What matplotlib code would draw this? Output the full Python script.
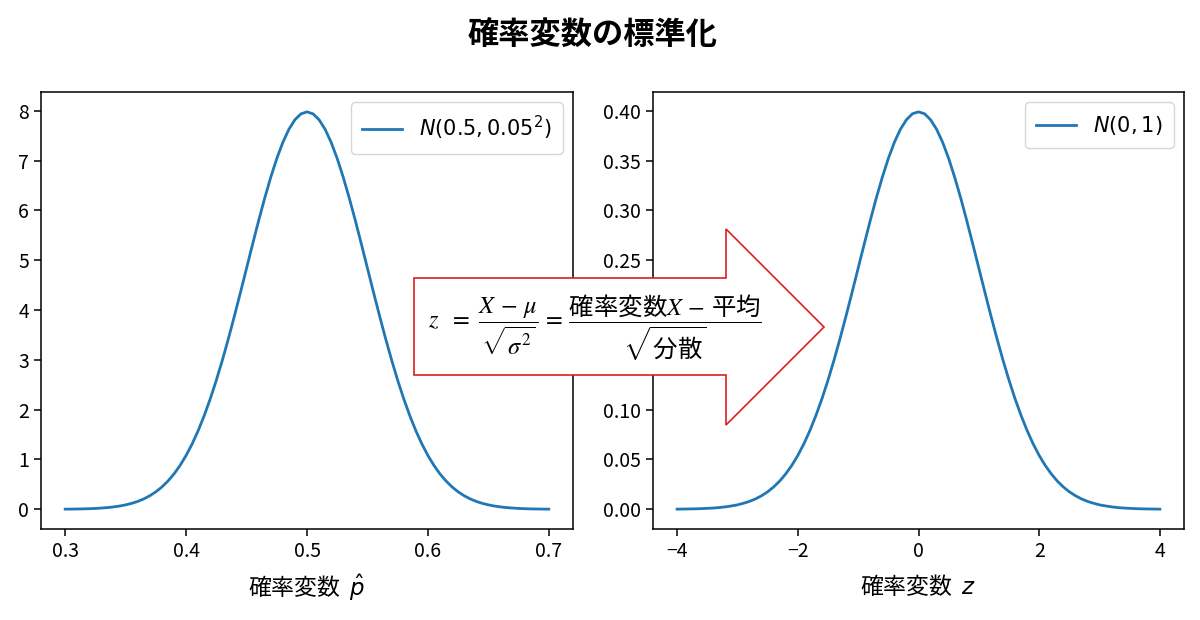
import matplotlib
matplotlib.use("Agg")
import matplotlib.pyplot as plt
from matplotlib.patches import Polygon

plt.rcParams['font.family'] = ['Noto Sans CJK JP', 'DejaVu Sans']
plt.rcParams['mathtext.rm'] = 'STIXGeneral'
plt.rcParams['mathtext.it'] = 'STIXGeneral:italic'
plt.rcParams['mathtext.bf'] = 'STIXGeneral:bold'
plt.rcParams['mathtext.sf'] = 'Noto Sans CJK JP'

# ---------------- data ----------------
p_hat = [0.300, 0.305, 0.310, 0.315, 0.320, 0.325, 0.330, 0.335, 0.340, 0.345,
         0.350, 0.355, 0.360, 0.365, 0.370, 0.375, 0.380, 0.385, 0.390, 0.395,
         0.400, 0.405, 0.410, 0.415, 0.420, 0.425, 0.430, 0.435, 0.440, 0.445,
         0.450, 0.455, 0.460, 0.465, 0.470, 0.475, 0.480, 0.485, 0.490, 0.495,
         0.500,
         0.505, 0.510, 0.515, 0.520, 0.525, 0.530, 0.535, 0.540, 0.545, 0.550,
         0.555, 0.560, 0.565, 0.570, 0.575, 0.580, 0.585, 0.590, 0.595, 0.600,
         0.605, 0.610, 0.615, 0.620, 0.625, 0.630, 0.635, 0.640, 0.645, 0.650,
         0.655, 0.660, 0.665, 0.670, 0.675, 0.680, 0.685, 0.690, 0.695, 0.700]
density_p = [0.003, 0.004, 0.006, 0.008, 0.012, 0.017, 0.025, 0.034, 0.048, 0.065,
             0.089, 0.119, 0.158, 0.208, 0.272, 0.351, 0.448, 0.567, 0.709, 0.880,
             1.080, 1.312, 1.579, 1.881, 2.218, 2.590, 2.995, 3.427, 3.884, 4.357,
             4.839, 5.322, 5.794, 6.245, 6.664, 7.041, 7.365, 7.628, 7.821, 7.939,
             7.979,
             7.939, 7.821, 7.628, 7.365, 7.041, 6.664, 6.245, 5.794, 5.322, 4.839,
             4.357, 3.884, 3.427, 2.995, 2.590, 2.218, 1.881, 1.579, 1.312, 1.080,
             0.880, 0.709, 0.567, 0.448, 0.351, 0.272, 0.208, 0.158, 0.119, 0.089,
             0.065, 0.048, 0.034, 0.025, 0.017, 0.012, 0.008, 0.006, 0.004, 0.003]

z_vals = [-4.0, -3.9, -3.8, -3.7, -3.6, -3.5, -3.4, -3.3, -3.2, -3.1,
          -3.0, -2.9, -2.8, -2.7, -2.6, -2.5, -2.4, -2.3, -2.2, -2.1,
          -2.0, -1.9, -1.8, -1.7, -1.6, -1.5, -1.4, -1.3, -1.2, -1.1,
          -1.0, -0.9, -0.8, -0.7, -0.6, -0.5, -0.4, -0.3, -0.2, -0.1,
          0.0,
          0.1, 0.2, 0.3, 0.4, 0.5, 0.6, 0.7, 0.8, 0.9, 1.0,
          1.1, 1.2, 1.3, 1.4, 1.5, 1.6, 1.7, 1.8, 1.9, 2.0,
          2.1, 2.2, 2.3, 2.4, 2.5, 2.6, 2.7, 2.8, 2.9, 3.0,
          3.1, 3.2, 3.3, 3.4, 3.5, 3.6, 3.7, 3.8, 3.9, 4.0]
density_z = [0.0001, 0.0002, 0.0003, 0.0004, 0.0006, 0.0009, 0.0012, 0.0017, 0.0024, 0.0033,
             0.0044, 0.0060, 0.0079, 0.0104, 0.0136, 0.0175, 0.0224, 0.0283, 0.0355, 0.0440,
             0.0540, 0.0656, 0.0790, 0.0941, 0.1109, 0.1295, 0.1497, 0.1714, 0.1942, 0.2179,
             0.2420, 0.2661, 0.2897, 0.3123, 0.3332, 0.3521, 0.3683, 0.3814, 0.3910, 0.3970,
             0.3989,
             0.3970, 0.3910, 0.3814, 0.3683, 0.3521, 0.3332, 0.3123, 0.2897, 0.2661, 0.2420,
             0.2179, 0.1942, 0.1714, 0.1497, 0.1295, 0.1109, 0.0941, 0.0790, 0.0656, 0.0540,
             0.0440, 0.0355, 0.0283, 0.0224, 0.0175, 0.0136, 0.0104, 0.0079, 0.0060, 0.0044,
             0.0033, 0.0024, 0.0017, 0.0012, 0.0009, 0.0006, 0.0004, 0.0003, 0.0002, 0.0001]

left_xticks = [0.3, 0.4, 0.5, 0.6, 0.7]
left_yticks = [0, 1, 2, 3, 4, 5, 6, 7, 8]
right_xticks = [-4, -2, 0, 2, 4]
right_yticks = [0.00, 0.05, 0.10, 0.15, 0.20, 0.25, 0.30, 0.35, 0.40]

title = "確率変数の標準化"
left_label = "$N(0.5, 0.05^2)$"
right_label = "$N(0, 1)$"
left_xlabel = "確率変数  $\\hat{p}$"
right_xlabel = "確率変数  $z$"
formula = (r"$z\ \ =\ \dfrac{X\,-\,\mu}{\sqrt{\sigma^2}}\,=\,"
           r"\dfrac{\mathsf{確率変数}X\,-\,\mathsf{平均}}{\sqrt{\mathsf{分散}}}$")

# ---------------- figure ----------------
W, H = 1200, 620
fig = plt.figure(figsize=(W / 100, H / 100), dpi=100)

ax1 = fig.add_axes([41 / W, 1 - 529 / H, (573 - 41) / W, (529 - 92) / H])
ax2 = fig.add_axes([653 / W, 1 - 529 / H, (1184 - 653) / W, (529 - 92) / H])

line_color = '#1f77b4'
ax1.plot(p_hat, density_p, color=line_color, lw=2.0, label=left_label)
ax2.plot(z_vals, density_z, color=line_color, lw=2.0, label=right_label)

ax1.set_xticks(left_xticks)
ax1.set_yticks(left_yticks)
ax2.set_xticks(right_xticks)
ax2.set_yticks(right_yticks)
ax2.yaxis.set_major_formatter(matplotlib.ticker.FormatStrFormatter('%.2f'))

for ax, xl in ((ax1, left_xlabel), (ax2, right_xlabel)):
    ax.tick_params(labelsize=14, length=5, width=1.1)
    for s in ax.spines.values():
        s.set_linewidth(1.1)
    ax.set_xlabel(xl, fontsize=16.5, labelpad=8)
    ax.legend(loc='upper right', fontsize=15, borderpad=0.55,
              handlelength=1.9)

fig.text(593 / W, 1 - 36 / H, title, ha='center', va='center',
         fontsize=22.5, fontweight='bold')

# arrow callout (figure pixel geometry)
arrow_px = [(414, 278), (726, 278), (726, 229), (824, 327),
            (726, 425), (726, 375), (414, 375)]
arrow_pts = [(x / W, 1 - y / H) for x, y in arrow_px]
arrow = Polygon(arrow_pts, closed=True, transform=fig.transFigure,
                facecolor='white', edgecolor='#dd1f1f', lw=1.2, zorder=5)
fig.add_artist(arrow)

t = fig.text(428 / W, 1 - 328 / H, formula, ha='left', va='center',
             fontsize=17.6, zorder=6, math_fontfamily='custom')

fig.savefig("out.png", dpi=100)
